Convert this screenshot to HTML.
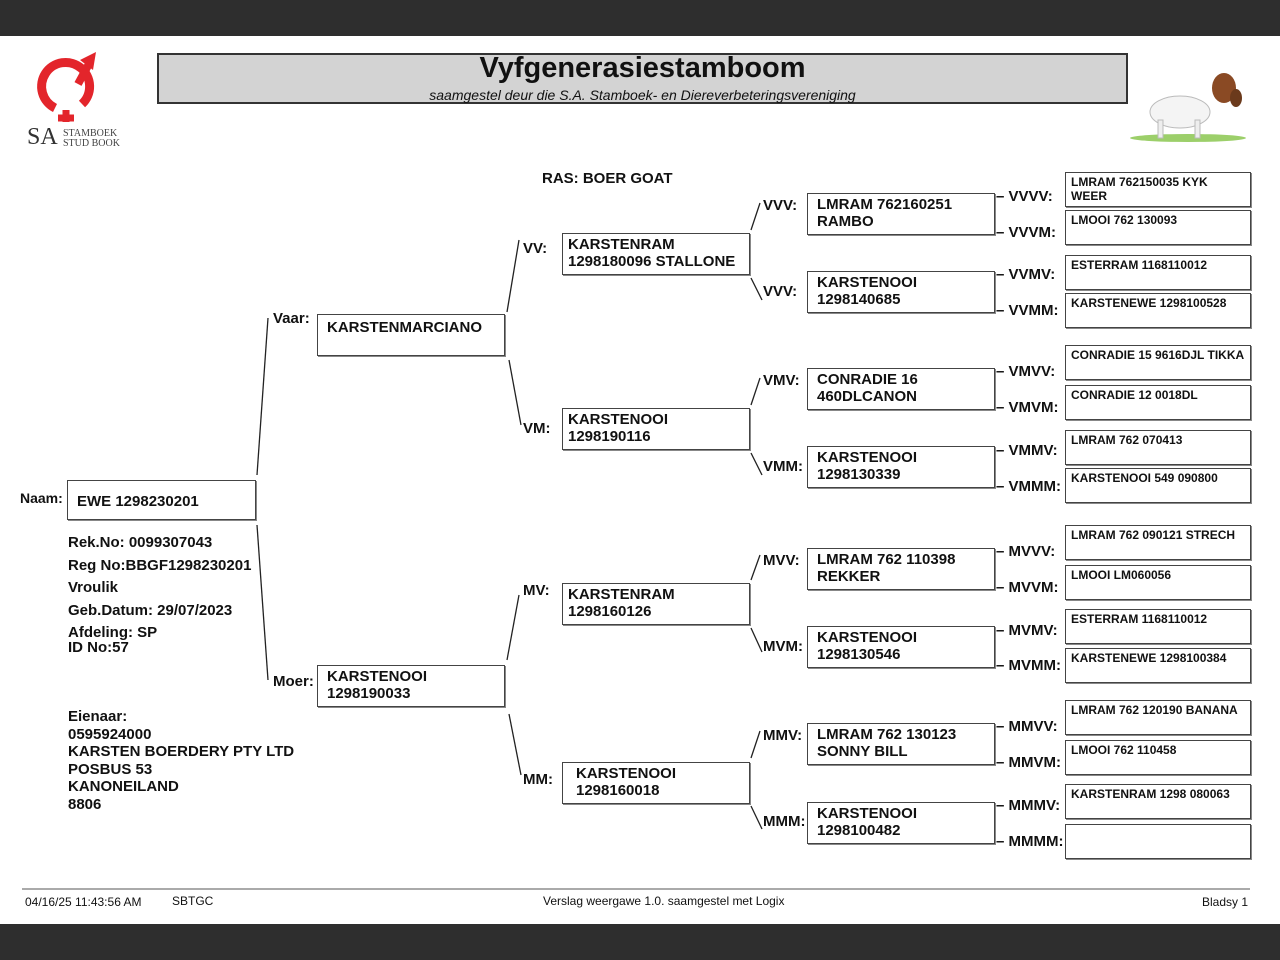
<!DOCTYPE html>
<html><head><meta charset="utf-8"><style>
body{margin:0;width:1280px;height:960px;position:relative;background:#fff;font-family:"Liberation Sans",Arial,sans-serif;overflow:hidden;color:#111}
.a{position:absolute;white-space:nowrap}
.bx{position:absolute;border:1px solid #444;box-shadow:1px 1px 0 #888;box-sizing:border-box;font-weight:bold;font-size:15px;line-height:17px;padding:2px 0 0 9px;white-space:nowrap}
.g4{left:807px;width:188px;height:42px}
.g5{left:1065px;width:186px;height:35px;font-size:12px;line-height:14px;padding:2px 0 0 5px}
.l{position:absolute;font-weight:bold;font-size:15px;white-space:nowrap}
.s{position:absolute;font-weight:bold;font-size:15px;white-space:nowrap}
</style></head><body>
<div class="a" style="left:0;top:0;width:1280px;height:36px;background:#2e2e2e"></div>
<div class="a" style="left:0;top:924px;width:1280px;height:36px;background:#2e2e2e"></div>

<svg class="a" style="left:0;top:0" width="1280" height="960">
<g fill="none" stroke="#e3252b" stroke-width="9">
<path d="M55 108 A24 24 0 1 1 82 104"/>
</g>
<path d="M80 60 L96 52 L93 70 Z" fill="#e3252b"/>
<path d="M78 84 L90 62" stroke="#e3252b" stroke-width="8"/>
<path d="M66 110 L66 122 M58 118 L74 118" stroke="#e3252b" stroke-width="7"/>
<g stroke="#222" stroke-width="1.3" fill="none">
<line x1="257" y1="475" x2="268" y2="318"/>
<line x1="257" y1="525" x2="268" y2="680"/>
<line x1="507" y1="312" x2="519" y2="240"/>
<line x1="509" y1="360" x2="521" y2="425"/>
<line x1="507" y1="660" x2="519" y2="595"/>
<line x1="509" y1="714" x2="521" y2="775"/>
<line x1="751" y1="230" x2="760" y2="203"/>
<line x1="751" y1="278" x2="762" y2="300"/>
<line x1="751" y1="405" x2="760" y2="378"/>
<line x1="751" y1="453" x2="762" y2="475"/>
<line x1="751" y1="580" x2="760" y2="555"/>
<line x1="751" y1="628" x2="762" y2="652"/>
<line x1="751" y1="758" x2="760" y2="731"/>
<line x1="751" y1="806" x2="762" y2="829"/>
</g>
<line x1="22" y1="889" x2="1250" y2="889" stroke="#555" stroke-width="1"/>
<!-- goat -->
<ellipse cx="1188" cy="138" rx="58" ry="4" fill="#9ccf6a"/>
<ellipse cx="1180" cy="112" rx="30" ry="16" fill="#f4f4f4" stroke="#bbb"/>
<rect x="1158" y="120" width="5" height="18" fill="#eee" stroke="#bbb"/>
<rect x="1195" y="120" width="5" height="18" fill="#eee" stroke="#bbb"/>
<ellipse cx="1224" cy="88" rx="12" ry="15" fill="#8a4a24"/>
<ellipse cx="1236" cy="98" rx="6" ry="9" fill="#6b3a1c"/>
</svg>
<div class="a" style="left:27px;top:124px;font-family:'Liberation Serif',serif;font-size:24px;color:#333">SA</div>
<div class="a" style="left:63px;top:129px;font-family:'Liberation Serif',serif;font-size:10px;line-height:10px;color:#444">STAMBOEK<br>STUD BOOK</div>

<div class="a" style="left:157px;top:53px;width:971px;height:51px;background:#d3d3d3;border:2px solid #333;box-sizing:border-box"></div>
<div class="a" style="left:157px;top:52px;width:971px;text-align:center;font-weight:bold;font-size:29px">Vyfgenerasiestamboom</div>
<div class="a" style="left:157px;top:87px;width:971px;text-align:center;font-style:italic;font-size:14px">saamgestel deur die S.A. Stamboek- en Diereverbeteringsvereniging</div>

<div class="s" style="left:542px;top:170px">RAS: BOER GOAT</div>

<div class="l" style="left:20px;top:490px;font-size:14px">Naam:</div>
<div class="bx" style="left:67px;top:480px;width:189px;height:40px;padding-top:12px">EWE 1298230201</div>
<div class="s" style="left:68px;top:532px;line-height:22.5px">Rek.No: 0099307043<br>Reg No:BBGF1298230201<br>Vroulik<br>Geb.Datum: 29/07/2023<br>Afdeling: SP</div>
<div class="s" style="left:68px;top:639px">ID No:57</div>
<div class="s" style="left:68px;top:708px;line-height:17.5px">Eienaar:<br>0595924000<br>KARSTEN BOERDERY PTY LTD<br>POSBUS 53<br>KANONEILAND<br>8806</div>

<div class="l" style="left:273px;top:310px">Vaar:</div>
<div class="bx" style="left:317px;top:314px;width:188px;height:42px;padding-top:4px">KARSTENMARCIANO</div>
<div class="l" style="left:273px;top:673px">Moer:</div>
<div class="bx" style="left:317px;top:665px;width:188px;height:42px">KARSTENOOI<br>1298190033</div>

<div class="l" style="left:523px;top:240px">VV:</div>
<div class="bx" style="left:562px;top:233px;width:188px;height:42px;padding-left:5px">KARSTENRAM<br>1298180096 STALLONE</div>
<div class="l" style="left:523px;top:420px">VM:</div>
<div class="bx" style="left:562px;top:408px;width:188px;height:42px;padding-left:5px">KARSTENOOI<br>1298190116</div>
<div class="l" style="left:523px;top:582px">MV:</div>
<div class="bx" style="left:562px;top:583px;width:188px;height:42px;padding-left:5px">KARSTENRAM<br>1298160126</div>
<div class="l" style="left:523px;top:771px">MM:</div>
<div class="bx" style="left:562px;top:762px;width:188px;height:42px;padding-left:13px">KARSTENOOI<br>1298160018</div>

<div class="l" style="left:763px;top:197px">VVV:</div>
<div class="bx g4" style="top:193px">LMRAM 762160251<br>RAMBO</div>
<div class="l" style="left:763px;top:283px">VVV:</div>
<div class="bx g4" style="top:271px">KARSTENOOI<br>1298140685</div>
<div class="l" style="left:763px;top:372px">VMV:</div>
<div class="bx g4" style="top:368px">CONRADIE 16<br>460DLCANON</div>
<div class="l" style="left:763px;top:458px">VMM:</div>
<div class="bx g4" style="top:446px">KARSTENOOI<br>1298130339</div>
<div class="l" style="left:763px;top:552px">MVV:</div>
<div class="bx g4" style="top:548px">LMRAM 762 110398<br>REKKER</div>
<div class="l" style="left:763px;top:638px">MVM:</div>
<div class="bx g4" style="top:626px">KARSTENOOI<br>1298130546</div>
<div class="l" style="left:763px;top:727px">MMV:</div>
<div class="bx g4" style="top:723px">LMRAM 762 130123<br>SONNY BILL</div>
<div class="l" style="left:763px;top:813px">MMM:</div>
<div class="bx g4" style="top:802px">KARSTENOOI<br>1298100482</div>

<div class="l" style="left:996px;top:188px">– VVVV:</div>
<div class="l" style="left:996px;top:224px">– VVVM:</div>
<div class="l" style="left:996px;top:266px">– VVMV:</div>
<div class="l" style="left:996px;top:302px">– VVMM:</div>
<div class="l" style="left:996px;top:363px">– VMVV:</div>
<div class="l" style="left:996px;top:399px">– VMVM:</div>
<div class="l" style="left:996px;top:442px">– VMMV:</div>
<div class="l" style="left:996px;top:478px">– VMMM:</div>
<div class="l" style="left:996px;top:543px">– MVVV:</div>
<div class="l" style="left:996px;top:579px">– MVVM:</div>
<div class="l" style="left:996px;top:622px">– MVMV:</div>
<div class="l" style="left:996px;top:657px">– MVMM:</div>
<div class="l" style="left:996px;top:718px">– MMVV:</div>
<div class="l" style="left:996px;top:754px">– MMVM:</div>
<div class="l" style="left:996px;top:797px">– MMMV:</div>
<div class="l" style="left:996px;top:833px">– MMMM:</div>

<div class="bx g5" style="top:172px">LMRAM 762150035 KYK<br>WEER</div>
<div class="bx g5" style="top:210px">LMOOI 762 130093</div>
<div class="bx g5" style="top:255px">ESTERRAM 1168110012</div>
<div class="bx g5" style="top:293px">KARSTENEWE 1298100528</div>
<div class="bx g5" style="top:345px">CONRADIE 15 9616DJL TIKKA</div>
<div class="bx g5" style="top:385px">CONRADIE 12 0018DL</div>
<div class="bx g5" style="top:430px">LMRAM 762 070413</div>
<div class="bx g5" style="top:468px">KARSTENOOI 549 090800</div>
<div class="bx g5" style="top:525px">LMRAM 762 090121 STRECH</div>
<div class="bx g5" style="top:565px">LMOOI LM060056</div>
<div class="bx g5" style="top:609px">ESTERRAM 1168110012</div>
<div class="bx g5" style="top:648px">KARSTENEWE 1298100384</div>
<div class="bx g5" style="top:700px">LMRAM 762 120190 BANANA</div>
<div class="bx g5" style="top:740px">LMOOI 762 110458</div>
<div class="bx g5" style="top:784px">KARSTENRAM 1298 080063</div>
<div class="bx g5" style="top:824px"></div>

<div class="a" style="left:25px;top:895px;font-size:12px">04/16/25 11:43:56 AM</div>
<div class="a" style="left:172px;top:894px;font-size:12px">SBTGC</div>
<div class="a" style="left:543px;top:894px;font-size:12px">Verslag weergawe 1.0. saamgestel met Logix</div>
<div class="a" style="left:1202px;top:895px;font-size:12px">Bladsy 1</div>
</body></html>
